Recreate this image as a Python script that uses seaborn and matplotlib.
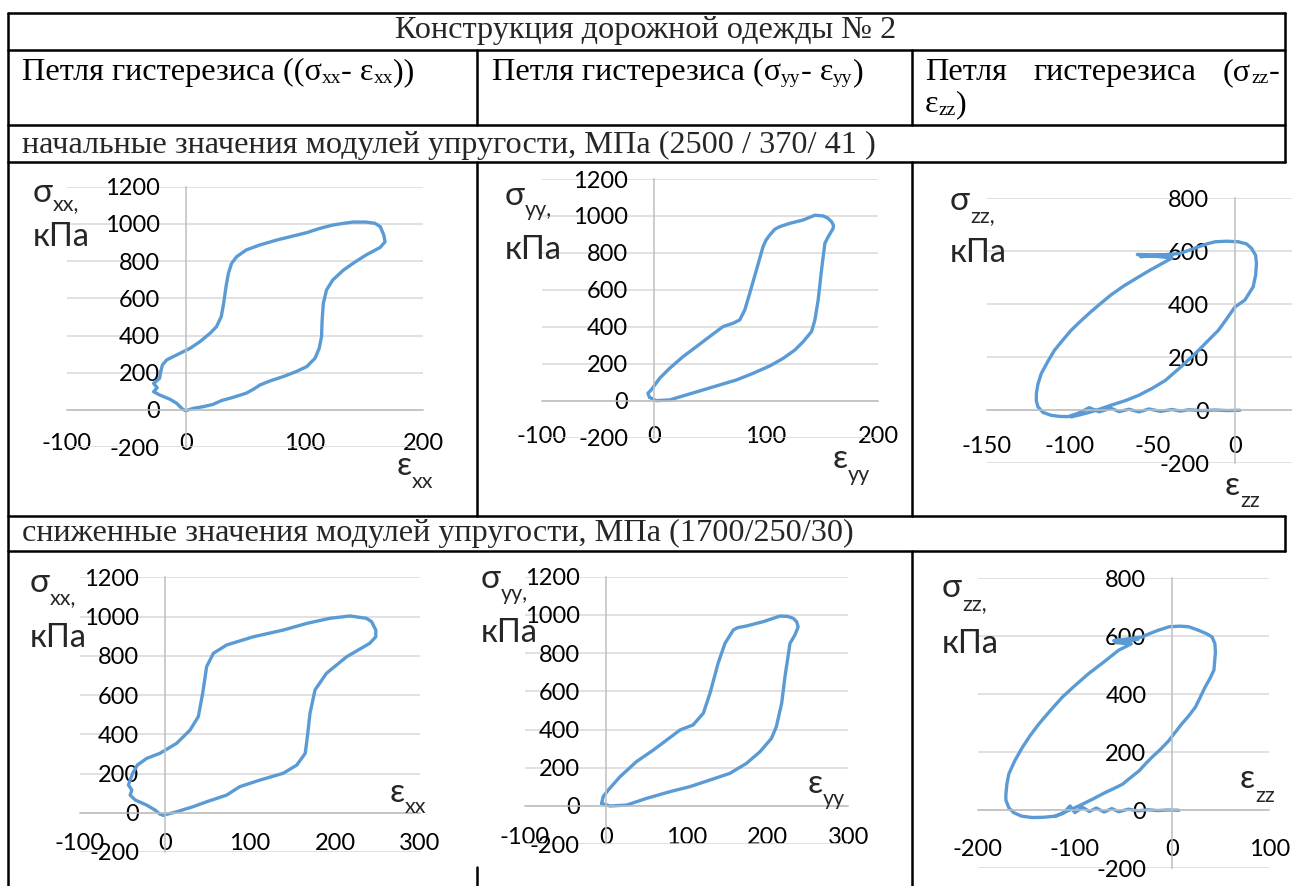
import matplotlib
matplotlib.use("Agg")
import matplotlib.pyplot as plt
from matplotlib.lines import Line2D
import seaborn as sns

# ---------------- loop data: strain (x) and stress, kPa (y) ----------------
# initial moduli 2500 / 370 / 41 MPa
xx1_strain = [0, 6.5, 15, 23, 30, 40, 51, 57, 62.5, 71, 82, 93, 102, 109, 112.5, 114.5, 115,
              116, 118.7, 124, 133, 141, 152, 164, 168, 167, 164, 159.6, 152, 141, 133, 124,
              113, 102, 90.5, 76.6, 62.5, 51, 43, 38.7, 36, 34, 32, 30, 26, 20.5, 12, 3.6,
              -7.6, -16, -19.6, -21, -22, -27, -24, -27, -22, -13, -7.6, -2.5, 0]
xx1_stress = [-4, 9, 18, 30, 50, 68, 90, 111, 134, 156, 179, 206, 233, 278, 331, 394, 484,
              573, 645, 699, 752, 788, 833, 874, 904, 940, 985, 1003, 1010, 1010, 1003, 994,
              976, 953, 935, 913, 887, 860, 824, 788, 734, 663, 573, 502, 448, 412, 367, 331,
              296, 269, 242, 206, 170, 143, 120, 98, 81, 57, 36, 4, -4]

yy1_strain = [-3.9, 2.1, 14, 28.9, 43.8, 58.6, 73.5, 88.4, 103.3, 115.2, 125.6, 133, 140.5,
              143.5, 146.4, 149.4, 152.4, 155.4, 159.8, 160, 158.3, 155, 150.9, 143.5, 133,
              121.1, 112.2, 107.7, 103.3, 100, 97.3, 91.4, 85.4, 81, 76.5, 70.5, 61.6, 49.7,
              37.8, 25.9, 14, 5.1, -2.4, -5.4, -3.9]
yy1_stress = [18, 0, 4, 31, 58, 85, 112, 148, 188, 229, 274, 319, 374, 437, 545, 708, 852,
              888, 933, 950, 969, 988, 1000, 1004, 978, 960, 942, 928, 897, 870, 834, 708,
              581, 491, 437, 419, 401, 347, 292, 238, 175, 121, 58, 40, 18]

zz1_strain = [3, -5, -12, -20, -28, -33, -38, -45, -52, -58, -64, -70, -75, -82, -88, -95,
              -101, -106, -111, -116, -119, -120, -120, -119, -117, -113, -109, -104, -99,
              -93, -87, -81, -75, -67, -58, -51, -44, -38, -59, -38, -57, -33, -22, -17,
              -12, -5, 2, 7, 10, 12.5, 13, 12.5, 11, 6, 0, -5, -10, -17, -24, -33, -42,
              -50, -58, -66, -75, -81, -87, -93, -99]
zz1_stress = [0, -1, 1, -1, 2, -3, 3, -4, 5, -6, 4, -5, 8, -6, 10, -12,
              -24, -23, -19, -8, 13, 35, 63, 100, 139, 185, 227, 265, 302,
              338, 372, 404, 435, 470, 504, 530, 554, 575, 588, 585, 580, 592, 617, 628,
              636, 638, 636, 628, 611, 585, 554, 510, 466, 416, 390, 345, 302, 258, 214,
              162, 113, 83, 57, 37, 19, 6, -6, -16, -25]

# reduced moduli 1700 / 250 / 30 MPa
xx2_strain = [-2, 13.7, 33, 49, 72.5, 88, 112, 139, 155, 165, 167.5, 170.6, 176.5, 190,
              213.7, 241, 248, 248, 243, 237, 217.6, 194, 166.7, 139, 104, 72.5, 57, 49,
              44.3, 39.2, 29.4, 13.7, -5.9, -21.6, -32.5, -38, -41, -43, -39, -41, -35,
              -21.6, -11.8, -5.9, -2]
xx2_stress = [-12, 5, 31, 56, 90, 133, 167, 201, 243, 303, 388, 507, 626, 711, 795, 864,
              897, 931, 974, 991, 1003, 991, 965, 931, 897, 855, 813, 745, 608, 490, 421,
              354, 303, 277, 243, 201, 167, 141, 116, 90, 65, 39, 14, -7, -12]

yy2_strain = [-5, 5.4, 26, 50.7, 79.5, 104, 129, 153.7, 174, 190.8, 205, 211, 217.6, 221.7,
              227.9, 234, 238, 236, 232, 225, 215.5, 195, 174, 163, 157.8, 147.5, 139, 129,
              120.7, 108, 92, 75.4, 59, 38, 17.7, 3.3, -3, -5]
yy2_stress = [14, 0, 5, 40, 75, 101, 136, 171, 223, 284, 354, 415, 537, 677, 851, 895, 938,
              965, 982, 992, 994, 965, 942, 933, 921, 851, 747, 590, 485, 424, 398, 345, 293,
              232, 153, 84, 50, 14]

zz2_strain = [7, -5, -15, -25, -35, -45, -55, -62, -70, -78, -85, -92, -100, -105, -112,
              -120, -132, -144, -155, -163, -168, -171, -171, -170, -168, -162, -154, -146,
              -137, -125, -113, -100, -86, -70, -55, -42, -58, -35, -60, -30, -27, -15, -3,
              8, 17, 27, 36, 41, 44, 44.6, 43, 39, 34, 29, 24, 17, 10, 3, -3.4, -12, -21,
              -28, -34, -43, -51, -60, -69, -82, -96, -108, -120]
zz2_stress = [0, 1, -1, 2, -2, 4, -5, 6, -6, 8, -4, 10, -8, 15, -10,
              -20, -24, -25, -20, -8, 9, 35, 55, 90, 125, 170, 217, 258,
              298, 345, 390, 430, 471, 512, 552, 574, 578, 590, 585, 598, 604, 620, 633,
              635, 633, 621, 608, 598, 575, 546, 483, 455, 425, 390, 356, 325, 298, 268, 240,
              210, 182, 158, 136, 112, 90, 75, 61, 38, 15, -3, -20]

# ---------------- table texts ----------------
title_text = "Конструкция дорожной одежды № 2"
header_col1 = [("Петля гистерезиса ((σ", 0), ("xx", 1), ("- ε", 0), ("xx", 1), ("))", 0)]
header_col2 = [("Петля гистерезиса (σ", 0), ("yy", 1), ("- ε", 0), ("yy", 1), (")", 0)]
header_col3_tail = [("(σ", 0), ("zz", 1), ("-", 0)]
header_col3_line2 = [("ε", 0), ("zz", 1), (")", 0)]
row1_caption = "начальные значения модулей упругости, МПа (2500 / 370/ 41 )"
row2_caption = "сниженные значения модулей упругости, МПа (1700/250/30)"

W, H = 1292, 886
sns.set_style("white")
plt.rcParams["font.family"] = ["Lato", "DejaVu Sans"]
plt.rcParams["axes.unicode_minus"] = False

fig = plt.figure(figsize=(W / 100, H / 100), dpi=100)
fig.patch.set_facecolor("white")
renderer = fig.canvas.get_renderer()

SERIF = "Liberation Serif"
TSIZE = 23.2
SUB = 14
LOOP = "#5B9BD5"
GRID = "#D9D9D9"
AXIS = "#BFBFBF"
TICK_SIZE = 17


def fx(px):
    return px / W


def fy(py):
    return 1 - py / H


def hline(y, x0, x1, lw=1.8):
    fig.add_artist(Line2D([fx(x0), fx(x1)], [fy(y), fy(y)], color="black", lw=lw))


def vline(x, y0, y1, lw=1.8):
    fig.add_artist(Line2D([fx(x), fx(x)], [fy(y0), fy(y1)], color="black", lw=lw))


def run(x, base, pieces, size=TSIZE, sub=SUB, drop=3):
    """Draw a row of text pieces, subscripts (flag 1) smaller and lowered."""
    for s, is_sub in pieces:
        t = fig.text(fx(x), fy(base + (drop if is_sub else 0)), s,
                     fontsize=sub if is_sub else size, family=SERIF,
                     ha="left", va="baseline", color="black")
        x += t.get_window_extent(renderer).width
    return x


def width_of(pieces, size=TSIZE, sub=SUB):
    w = 0
    for s, is_sub in pieces:
        t = fig.text(0, 0, s, fontsize=sub if is_sub else size, family=SERIF)
        w += t.get_window_extent(renderer).width
        t.remove()
    return w


# ---------------- table grid ----------------
L, R = 8, 1285
ROW2_TOP = 516
for y in (12.7, 50, 125, 162, ROW2_TOP, 551):
    hline(y, L, R)
vline(L, 12.7, 886)
vline(R, 12.7, 162)
vline(R, ROW2_TOP, 551)
vline(477, 50, 125)
vline(912, 50, 125)
vline(477, 162, ROW2_TOP)
vline(912, 162, ROW2_TOP)
vline(912, 551, 886)
vline(477, 867, 886)

# ---------------- table texts ----------------
fig.text(fx(646), fy(38), title_text, fontsize=TSIZE, family=SERIF,
         ha="center", va="baseline")
run(22, 80, header_col1)
run(492, 80, header_col2)
# justified first line of the third header cell
word_end = run(925, 80, [("Петля", 0)])
tail_start = 1279 - width_of(header_col3_tail)
run(tail_start, 80, header_col3_tail)
mid_w = width_of([("гистерезиса", 0)])
run((word_end + tail_start - mid_w) / 2, 80, [("гистерезиса", 0)])
run(925, 112, header_col3_line2)
fig.text(fx(22), fy(153), row1_caption, fontsize=TSIZE, family=SERIF, ha="left", va="baseline")
fig.text(fx(22), fy(541), row2_caption, fontsize=TSIZE, family=SERIF, ha="left", va="baseline")


# ---------------- hysteresis panels ----------------
def panel(box, strain, stress, xticks, yticks, ticklen, label_drop, hidden=()):
    l, r, t, b = box
    ax = fig.add_axes([fx(l), fy(b), (r - l) / W, (b - t) / H])
    ax.patch.set_alpha(0)
    ax.set_axisbelow(True)
    sns.lineplot(x=strain, y=stress, sort=False, estimator=None, color=LOOP,
                 lw=2.4, ax=ax, clip_on=False)
    ax.set_xlim(xticks[0], xticks[-1])
    ax.set_ylim(yticks[0], yticks[-1])
    ax.set_xticks(xticks)
    ax.set_yticks(yticks)
    ax.set_xticklabels(["" if v in hidden else str(v) for v in xticks])
    ax.set_yticklabels([str(v) for v in yticks])
    ax.grid(axis="y", color=GRID, lw=1.1)
    ax.grid(axis="x", visible=False)
    ax.spines["top"].set_visible(False)
    ax.spines["right"].set_visible(False)
    ax.spines["left"].set_position(("data", 0))
    ax.spines["bottom"].set_position(("data", 0))
    for s in ("left", "bottom"):
        ax.spines[s].set_color(AXIS)
        ax.spines[s].set_linewidth(1.1)
    # tick-label offset below the x axis, in points
    total_pad = (label_drop - 9.5) / 1.389
    ax.tick_params(axis="y", length=0, pad=18.5, labelsize=TICK_SIZE, labelcolor="black")
    ax.tick_params(axis="x", length=ticklen, width=1.1, direction="out", color=AXIS,
                   pad=total_pad - ticklen, labelsize=TICK_SIZE, labelcolor="black")
    ax.set_xlabel("")
    ax.set_ylabel("")
    return ax


def axis_titles(sig_x, sig_base, sub_text, sub_base, kpa_base, eps_x, eps_base, eps_sub_base):
    t = fig.text(fx(sig_x), fy(sig_base), "σ", fontsize=24, ha="left", va="baseline")
    x = sig_x + t.get_window_extent(renderer).width
    fig.text(fx(x), fy(sub_base), sub_text + ",", fontsize=15.5, ha="left", va="baseline")
    fig.text(fx(sig_x), fy(kpa_base), "кПа", fontsize=23.5, ha="left", va="baseline")
    t = fig.text(fx(eps_x), fy(eps_base), "ε", fontsize=24, ha="left", va="baseline")
    x = eps_x + t.get_window_extent(renderer).width
    fig.text(fx(x), fy(eps_sub_base), sub_text, fontsize=15.5, ha="left", va="baseline")


panel((67, 423, 186.7, 447.2), xx1_strain, xx1_stress, [-100, 0, 100, 200],
      list(range(-200, 1201, 200)), 6, 33)
axis_titles(33, 202, "xx", 210, 246, 397, 475, 488)

panel((541.7, 878.3, 179, 437.6), yy1_strain, yy1_stress, [-100, 0, 100, 200],
      list(range(-200, 1201, 200)), 6, 35)
axis_titles(505, 205, "yy", 216, 259, 833, 468, 481)

panel((986.7, 1317.7, 198.3, 463.3), zz1_strain, zz1_stress, [-150, -100, -50, 0, 50],
      list(range(-200, 801, 200)), 6, 35, hidden=(50,))
axis_titles(950, 210, "zz", 222, 262, 1225, 495, 507)

panel((80, 420, 577.3, 852), xx2_strain, xx2_stress, [-100, 0, 100, 200, 300],
      list(range(-200, 1201, 200)), 0, 30)
axis_titles(30, 592, "xx", 604, 647, 390, 802, 813)

panel((524.8, 848.3, 576.7, 844.2), yy2_strain, yy2_stress, [-100, 0, 100, 200, 300],
      list(range(-200, 1201, 200)), 0, 31)
axis_titles(481, 588, "yy", 600, 642, 808, 793, 805)

panel((977.7, 1269.3, 578.3, 868.3), zz2_strain, zz2_stress, [-200, -100, 0, 100],
      list(range(-200, 801, 200)), 6, 38)
axis_titles(942, 597, "zz", 610, 653, 1240, 788, 802)

fig.savefig("out.png", dpi=100, facecolor="white")
